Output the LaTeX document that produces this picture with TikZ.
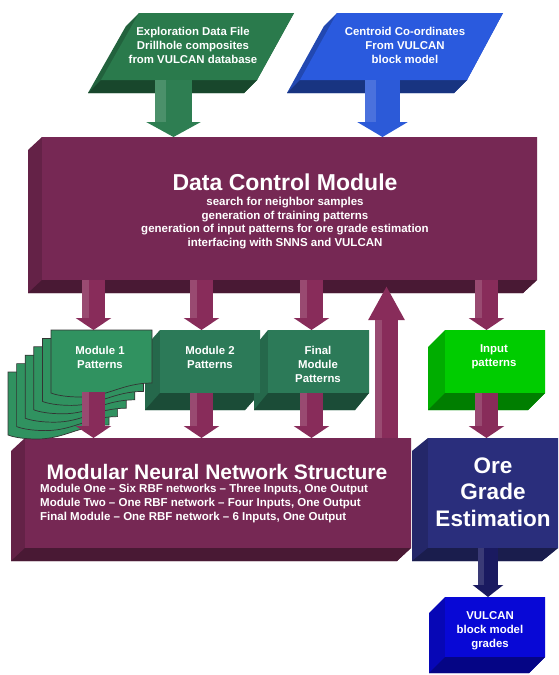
\documentclass[tikz,border=0pt]{standalone}
\usepackage{fontspec}
\setmainfont{Liberation Sans}
\usetikzlibrary{arrows.meta,calc}
\pgfdeclarelayer{back}
\pgfsetlayers{back,main}
\definecolor{dcmF}{RGB}{118,40,84}
\definecolor{arrF}{RGB}{136,44,90}
\definecolor{pgG}{RGB}{42,122,76}
\definecolor{pgB}{RGB}{42,90,222}
\definecolor{arrG}{RGB}{46,126,82}
\definecolor{arrB}{RGB}{44,90,216}
\definecolor{modT}{RGB}{44,122,88}
\definecolor{sheetG}{RGB}{48,146,96}
\definecolor{inpG}{RGB}{0,204,0}
\definecolor{oreF}{RGB}{42,46,124}
\definecolor{vulF}{RGB}{8,8,214}
\definecolor{navyA}{RGB}{26,26,96}
\tikzset{
  wt/.style={text=white, align=center, inner sep=0pt},
  smalltxt/.style={font=\bfseries\fontsize{11.4}{14}\selectfont},
  subtxt/.style={font=\bfseries\fontsize{11.5}{13.8}\selectfont},
}
% 3D box: name, x1, y1, x2, y2, dx, dy, colour
\newcommand\cubebox[8]{%
  \node[fill=#8, draw=none, inner sep=0pt, outer sep=0pt,
        minimum width={(#4)-(#2)}, minimum height={(#5)-(#3)},
        anchor=north west] (#1) at (#2,#3) {};
  \begin{pgfonlayer}{back}
    \fill[#8!85!black] (#1.north west) -- (#1.north east) -- (#1.south east)
      -- ($(#1.south east)+(#6,#7)$) -- ($(#1.south west)+(#6,#7)$)
      -- ($(#1.north west)+(#6,#7)$) -- cycle;
    \fill[#8!62!black] (#1.south west) -- (#1.south east)
      -- ($(#1.south east)+(#6,#7)$) -- ($(#1.south west)+(#6,#7)$) -- cycle;
  \end{pgfonlayer}}
% block arrow: start, end, width, head width, head length, colour
\newcommand\blockarr[6]{%
  \draw[line width=#3, draw=#6, -{Triangle[width=#4,length=#5]}] (#1) -- (#2);
  \draw[line width=0.3*#3, draw=#6!86!white, shorten >=#5]
    ($(#1)+(-0.35*#3,0)$) -- ($(#2)+(-0.35*#3,0)$);}
\begin{document}
\begin{tikzpicture}[x=1pt,y=-1pt]
\useasboundingbox (0,0) rectangle (559,675);
\begin{pgfonlayer}{back}
  \fill[white] (0,0) rectangle (559,675);
\end{pgfonlayer}

% ---------- top parallelograms ----------
\coordinate (g1) at (139,13); \coordinate (g2) at (294,13);
\coordinate (g3) at (257,80); \coordinate (g4) at (101,80);
\fill[pgG!80!black] (g1) -- (g2) -- (g3) -- ($(g3)+(-13,13)$) -- ($(g4)+(-13,13)$) -- ($(g1)+(-13,13)$) -- cycle;
\fill[pgG!58!black] (g4) -- (g3) -- ($(g3)+(-13,13)$) -- ($(g4)+(-13,13)$) -- cycle;
\fill[pgG] (g1) -- (g2) -- (g3) -- (g4) -- cycle;
\node[wt, smalltxt] (gtext) at (193,45) {Exploration Data File\\Drillhole composites\\from VULCAN database};

\coordinate (b1) at (337,13); \coordinate (b2) at (503,13);
\coordinate (b3) at (467,80); \coordinate (b4) at (300,80);
\fill[pgB!80!black] (b1) -- (b2) -- (b3) -- ($(b3)+(-13,13)$) -- ($(b4)+(-13,13)$) -- ($(b1)+(-13,13)$) -- cycle;
\fill[pgB!58!black] (b4) -- (b3) -- ($(b3)+(-13,13)$) -- ($(b4)+(-13,13)$) -- cycle;
\fill[pgB] (b1) -- (b2) -- (b3) -- (b4) -- cycle;
\node[wt, smalltxt] (btext) at (405,45) {Centroid Co-ordinates\\From VULCAN\\block model};

% ---------- main boxes ----------
\cubebox{dcm}{42}{137}{537}{280}{-14}{13}{dcmF}
\cubebox{mnn}{25}{438}{411}{548}{-14}{13}{dcmF}
\cubebox{ore}{428}{438}{558}{548}{-16}{13}{oreF}
\cubebox{mtwo}{160}{330}{260}{393}{-15}{17}{modT}
\cubebox{mfin}{268}{330}{369}{393}{-14}{17}{modT}
\cubebox{inp}{445}{330}{545}{393}{-17}{17}{inpG}
\cubebox{vul}{445}{597}{545}{657}{-16}{16}{vulF}

% ---------- Module 1 stack of sheets ----------
\foreach \k in {5,4,3,2,1,0}{
  \begin{scope}[shift={(-8.6*\k,8.4*\k)}]
    \filldraw[fill=sheetG, draw=black!80, line width=0.7pt]
      (51,330) -- (152,330) -- (152,383)
      .. controls (122,383) and (108,397) .. (80,397)
      .. controls (66,397) and (56,395) .. (51,393) -- cycle;
  \end{scope}}
\coordinate (m1top) at (93.5,330);
\coordinate (m1bot) at (93.5,392);

% ---------- texts ----------
\node[wt, font=\bfseries\fontsize{23}{27}\selectfont] (dcmt) at (285,182) {Data Control Module};
\node[wt, subtxt] (dcms) at (285,223) {search for neighbor samples\\generation of training patterns\\generation of input patterns for ore grade estimation\\interfacing with SNNS and VULCAN};
\node[wt, font=\bfseries\fontsize{21}{25}\selectfont] (mnnt) at (217,472) {Modular Neural Network Structure};
\node[wt, subtxt, align=left, anchor=west] (mnns) at (40,503.5) {Module One – Six RBF networks – Three Inputs, One Output\\Module Two – One RBF network – Four Inputs, One Output\\Final Module – One RBF network – 6 Inputs, One Output};
\node[wt, font=\bfseries\fontsize{22.5}{26.5}\selectfont] (oret) at (493,492) {Ore\\Grade\\Estimation};
\node[wt, smalltxt] (vult) at (490,631) {VULCAN\\block model\\grades};
\node[wt, smalltxt] (m1t) at (100,357) {Module 1\\Patterns};
\node[wt, smalltxt] (m2t) at (210,357) {Module 2\\Patterns};
\node[wt, smalltxt] (mft) at (318,364) {Final\\Module\\Patterns};
\node[wt, smalltxt] (inpt) at (494,357) {Input\\patterns};

% ---------- arrows ----------
\coordinate (xg) at (173.5,0);
\coordinate (xb) at (382.5,0);
\coordinate (xa) at (93.5,0);
\coordinate (xc) at (201.5,0);
\coordinate (xd) at (311.5,0);
\coordinate (xu) at (386.5,0);
\coordinate (xe) at (486.5,0);
\coordinate (xv) at (488,0);

\blockarr{xg |- g3}{xg |- dcm.north}{37pt}{54pt}{15pt}{arrG}
\blockarr{xb |- b3}{xb |- dcm.north}{35pt}{50pt}{15pt}{arrB}

\blockarr{xa |- dcm.south}{m1top}{23pt}{35pt}{12pt}{arrF}
\blockarr{xc |- dcm.south}{xc |- mtwo.north}{23pt}{35pt}{12pt}{arrF}
\blockarr{xd |- dcm.south}{xd |- mfin.north}{23pt}{35pt}{12pt}{arrF}
\blockarr{xe |- dcm.south}{xe |- inp.north}{23pt}{35pt}{12pt}{arrF}

\blockarr{m1bot}{xa |- mnn.north}{23pt}{35pt}{12pt}{arrF}
\blockarr{xc |- mtwo.south}{xc |- mnn.north}{23pt}{35pt}{12pt}{arrF}
\blockarr{xd |- mfin.south}{xd |- mnn.north}{23pt}{35pt}{12pt}{arrF}
\blockarr{xu |- mnn.north}{$(xu |- dcm.south)+(0,6)$}{23pt}{34pt}{34pt}{arrF}
\blockarr{xe |- inp.south}{xe |- ore.north}{23pt}{35pt}{12pt}{arrF}

\blockarr{xv |- ore.south}{xv |- vul.north}{20pt}{30pt}{12pt}{navyA}
\end{tikzpicture}
\end{document}
